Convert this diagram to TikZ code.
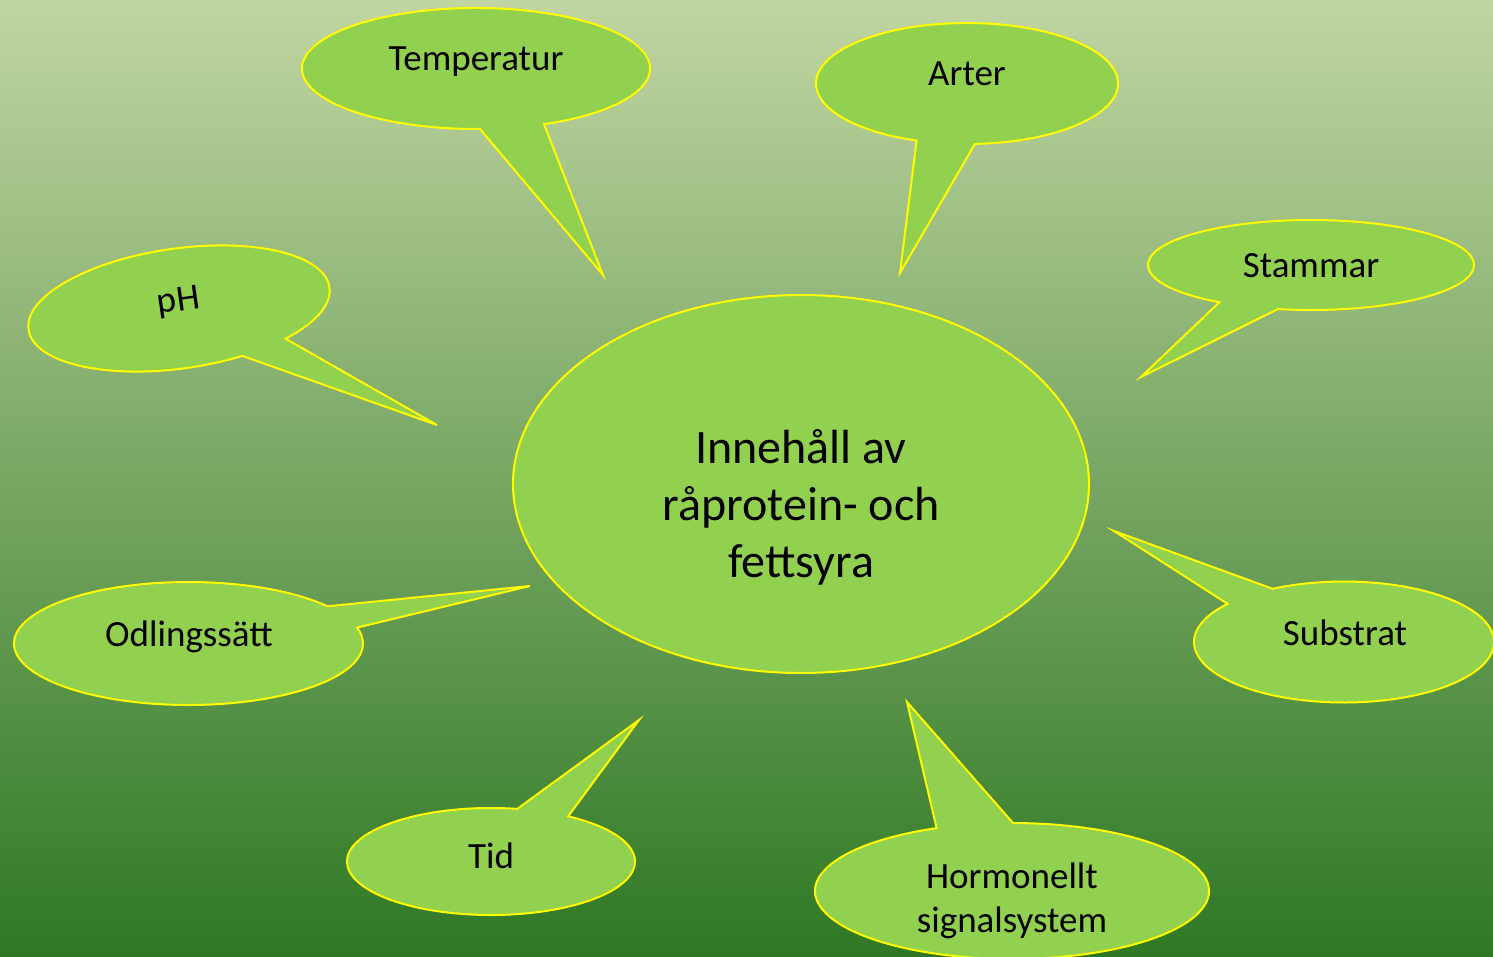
\documentclass[tikz,border=0pt]{standalone}
\usepackage{fontspec}
\setmainfont{Carlito}
\usetikzlibrary{calc}
\definecolor{bgtop}{RGB}{193,213,162}
\definecolor{bgmid}{RGB}{128,168,92}
\definecolor{bgbot}{RGB}{46,120,36}
\definecolor{bubblefill}{RGB}{146,208,80}
\definecolor{bubbleline}{RGB}{255,255,0}
\tikzset{
  bubble/.style={fill=bubblefill, draw=bubbleline, line width=2pt, line join=miter},
  lbl/.style={font=\fontsize{37}{45}\selectfont, text=black, inner sep=0pt, anchor=base},
  biglbl/.style={font=\fontsize{48}{58}\selectfont, text=black, inner sep=0pt, anchor=base}
}
\begin{document}
\begin{tikzpicture}[x=1pt,y=1pt]
\useasboundingbox (0,0) rectangle (1493,-957);
\clip (0,0) rectangle (1493,-957);
\shade[top color=bgtop, middle color=bgmid, bottom color=bgbot] (0,0) rectangle (1493,-957);

% tips
\coordinate (tipT) at (603,-275);
\coordinate (tipA) at (900,-273);
\coordinate (tipS) at (1141,-377);
\coordinate (tipP) at (437,-425);
\coordinate (tipO) at (530,-586);
\coordinate (tipTid) at (639,-720);
\coordinate (tipH) at (907,-702);
\coordinate (tipSub) at (1114,-531);

% centres
\coordinate (cT) at (476,-68.5);
\coordinate (cA) at (967,-83.5);
\coordinate (cS) at (1311,-265);
\coordinate (cO) at (188.5,-643.5);
\coordinate (cTid) at (491,-861.5);
\coordinate (cH) at (1012,-891);
\coordinate (cSub) at (1344,-642);

% central ellipse
\draw[bubble] (801,-484) ellipse [x radius=288, y radius=189];

% Temperatur
\draw[bubble] (tipT) -- ($(cT)+(-67:174 and 60.5)$)
  arc[start angle=-67, end angle=271.3, x radius=174, y radius=60.5] -- cycle;
% Arter
\draw[bubble] (tipA) -- ($(cA)+(-87:151 and 60.5)$)
  arc[start angle=-87, end angle=250.5, x radius=151, y radius=60.5] -- cycle;
% Stammar
\draw[bubble] (tipS) -- ($(cS)+(-101.7:163 and 45)$)
  arc[start angle=-101.7, end angle=235.8, x radius=163, y radius=45] -- cycle;
% pH (rotated)
\begin{scope}[shift={(179,-308.5)}, rotate=8]
\draw[bubble] (tipP) -- (-48.2:152 and 60)
  arc[start angle=-48.2, end angle=291.7, x radius=152, y radius=60] -- cycle;
\end{scope}
% Odlingssatt
\draw[bubble] (tipO) -- ($(cO)+(37.2:174.5 and 61.5)$)
  arc[start angle=37.2, end angle=375, x radius=174.5, y radius=61.5] -- cycle;
% Tid
\draw[bubble] (tipTid) -- ($(cTid)+(79.5:144 and 53.5)$)
  arc[start angle=79.5, end angle=417.6, x radius=144, y radius=53.5] -- cycle;
% Hormonellt
\draw[bubble] (tipH) -- ($(cH)+(112.5:197 and 68)$)
  arc[start angle=112.5, end angle=449.7, x radius=197, y radius=68] -- cycle;
% Substrat
\draw[bubble] (tipSub) -- ($(cSub)+(140.9:150 and 60.5)$)
  arc[start angle=140.9, end angle=478.4, x radius=150, y radius=60.5] -- cycle;

% labels
\node[biglbl] (main1) at (801,-463) {Innehåll av};
\node[biglbl] (main2) at (801,-520) {råprotein- och};
\node[biglbl] (main3) at (801,-577) {fettsyra};
\node[lbl] (temp) at (476,-71) {Temperatur};
\node[lbl] (arter) at (967,-85.5) {Arter};
\node[lbl] (stammar) at (1311,-278) {Stammar};
\node[lbl, rotate=8] (ph) at (180,-311) {pH};
\node[lbl] (odl) at (189,-646) {Odlingssätt};
\node[lbl] (tid) at (491,-868) {Tid};
\node[lbl] (sub) at (1345,-645) {Substrat};
\node[lbl] (horm1) at (1012,-888) {Hormonellt};
\node[lbl] (horm2) at (1012,-932) {signalsystem};
\end{tikzpicture}
\end{document}
